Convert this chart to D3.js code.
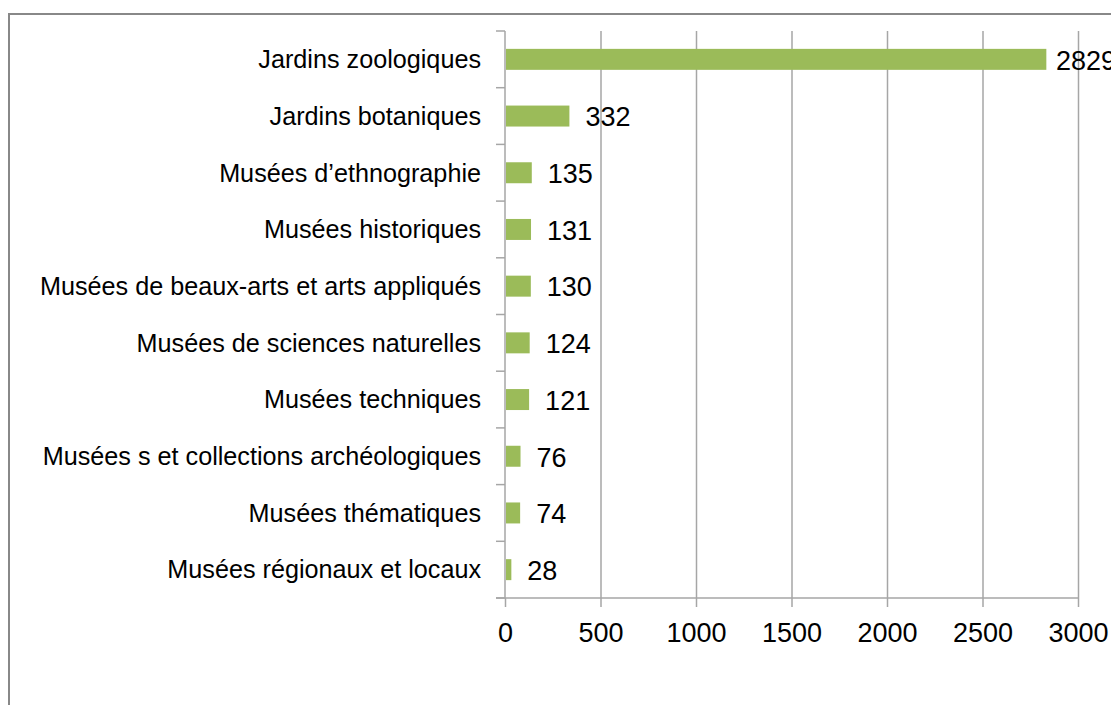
<!DOCTYPE html>
<html><head><meta charset="utf-8">
<script src="https://cdn.jsdelivr.net/npm/d3@7"></script>
<style>body{margin:0;background:#fff;} svg{display:block;}</style>
</head><body>
<svg id="c" width="1111" height="705"></svg>
<script>
const categories = ["Jardins zoologiques","Jardins botaniques","Musées d’ethnographie","Musées historiques","Musées de beaux-arts et arts appliqués","Musées de sciences naturelles","Musées techniques","Musées s et collections archéologiques","Musées thématiques","Musées régionaux et locaux"];
const values = [2829,332,135,131,130,124,121,76,74,28];
const xTicks = [0,500,1000,1500,2000,2500,3000];

const svg = d3.select("#c");
const font = "Liberation Sans, Arial, sans-serif";
const m = {left:505, right:1078, top:31, bottom:598};

svg.append("rect").attr("x",9).attr("y",14).attr("width",1200).attr("height",800)
  .attr("fill","#fff").attr("stroke","#888").attr("stroke-width",2);

const x = d3.scaleLinear().domain([0,3000]).range([m.left,m.right]);
const y = d3.scaleBand().domain(categories).range([m.top,m.bottom]).paddingInner(0.63).paddingOuter(0.315);

// gridlines + ticks
const xa = svg.append("g").attr("transform",`translate(0,${m.bottom})`)
  .call(d3.axisBottom(x).tickValues(xTicks).tickFormat(d3.format("d")).tickSize(9).tickSizeOuter(0).tickPadding(10));
xa.select(".domain").remove();
xa.selectAll(".tick line").attr("stroke","#a6a6a6").attr("stroke-width",1.5);
xa.selectAll(".tick text").attr("font-family",font).attr("font-size",27).attr("fill","#000").attr("dy","0.92em");
xa.selectAll(".tick").filter(d=>d>0).append("line")
  .attr("y1",0).attr("y2",m.top-m.bottom).attr("stroke","#a6a6a6").attr("stroke-width",1.5);
svg.append("line").attr("x1",m.left-9).attr("x2",m.right).attr("y1",m.bottom).attr("y2",m.bottom)
  .attr("stroke","#a6a6a6").attr("stroke-width",1.5);

// y axis with boundary ticks
const bounds = categories.map(c=>y(c)-y.step()*y.paddingInner()/2).concat([m.bottom]);
svg.append("line").attr("x1",m.left).attr("x2",m.left).attr("y1",m.top).attr("y2",m.bottom)
  .attr("stroke","#a6a6a6").attr("stroke-width",1.5);
svg.selectAll(".yt").data(bounds).join("line").attr("class","yt")
  .attr("x1",m.left-9).attr("x2",m.left).attr("y1",d=>d).attr("y2",d=>d)
  .attr("stroke","#a6a6a6").attr("stroke-width",1.5);

svg.selectAll(".cl").data(categories).join("text").attr("class","cl")
  .attr("x",m.left-24).attr("y",d=>y(d)+y.bandwidth()/2).attr("dy","0.35em")
  .attr("text-anchor","end").attr("font-family",font).attr("font-size",25.2).attr("fill","#000")
  .text(d=>d);

svg.selectAll(".bar").data(values).join("rect").attr("class","bar")
  .attr("x",x(0)+1).attr("y",(d,i)=>y(categories[i])).attr("height",y.bandwidth())
  .attr("width",d=>x(d)-x(0)).attr("fill","#9bbb59");

svg.selectAll(".vl").data(values).join("text").attr("class","vl")
  .attr("x",d=>Math.min(x(d)+17, x(3000)-22)).attr("y",(d,i)=>y(categories[i])+y.bandwidth()/2).attr("dy","0.38em")
  .attr("font-family",font).attr("font-size",27).attr("fill","#000").text(d=>d);
</script>
</body></html>
